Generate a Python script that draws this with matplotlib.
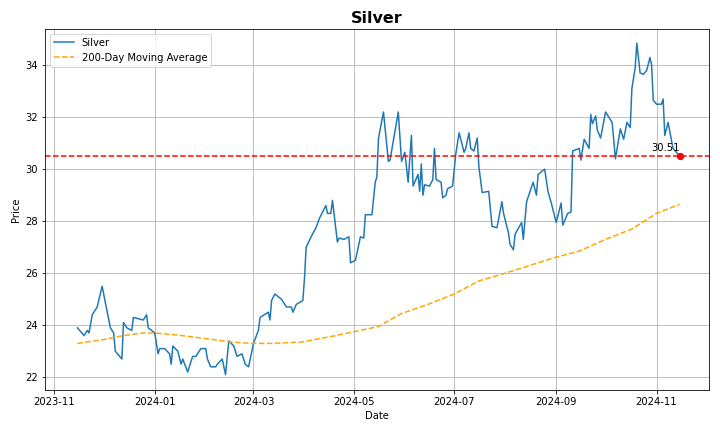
import matplotlib
matplotlib.use("Agg")
import matplotlib.pyplot as plt
import pandas as pd

base_date = "2024-01-01"
price_days = [-47,-43,-41,-40,-38,-35,-32,-27,-25,-24,-20,-19,-17,-14,-13,-7,-5,-4,0,2,3,6,9,10,11,14,16,17,20,23,25,28,31,32,34,37,38,41,43,45,48,50,53,55,57,60,63,64,69,70,71,73,77,80,83,84,86,90,
              91,92,95,98,100,104,105,107,108,111,112,115,118,119,122,125,127,128,132,134,135,136,139,142,143,148,150,152,154,156,157,160,161,162,163,164,167,169,170,171,174,175,177,178,181,183,185,188,189,191,192,194,196,197,199,203,205,208,211,212,215,
              216,218,219,223,224,226,230,232,233,237,239,241,244,247,248,251,253,254,258,259,261,264,265,266,268,269,271,274,278,280,283,285,287,289,290,292,293,295,297,299,301,302,303,305,308,309,310,312,315,319]
price_vals = [23.9,23.6,23.8,23.7,24.4,24.7,25.5,23.9,23.7,23.0,22.7,24.1,23.9,23.8,24.3,24.2,24.4,23.9,23.7,22.9,23.1,23.1,22.9,22.5,23.2,23.0,22.5,22.7,22.2,22.8,22.8,23.1,23.1,22.7,22.4,22.4,22.5,22.7,22.1,23.4,23.2,22.8,22.9,22.5,22.4,23.3,23.8,24.3,24.5,24.2,24.95,25.2,25.0,24.7,24.7,24.5,24.8,24.95,
              25.8,27.0,27.4,27.75,28.1,28.6,28.3,28.3,28.8,27.2,27.35,27.3,27.4,26.4,26.5,27.4,27.35,28.25,28.25,29.5,29.7,31.2,32.2,30.3,30.35,32.2,30.3,30.65,29.5,31.3,29.35,29.8,29.15,30.2,29.0,29.4,29.35,29.6,30.8,29.6,29.5,28.9,29.0,29.25,29.35,30.6,31.4,30.65,30.8,31.4,30.8,30.7,31.2,30.1,29.1,29.15,27.8,27.75,28.75,28.3,27.55,
              27.1,26.9,27.5,27.95,27.3,28.75,29.5,29.0,29.8,30.0,29.15,28.7,27.95,28.7,27.85,28.3,28.35,30.7,30.8,30.35,31.15,30.8,32.1,31.75,32.05,31.5,31.2,32.2,31.8,30.4,31.55,31.15,31.8,31.6,33.1,33.9,34.85,33.7,33.65,33.8,34.3,34.0,32.65,32.5,32.5,32.7,31.3,31.8,30.8,30.51]
ma_days = [-47,-31,-19,-7,0,14,29,47,59,71,89,110,121,136,150,166,182,197,213,228,243,258,274,290,305,319]
ma_vals = [23.3,23.45,23.6,23.7,23.7,23.62,23.5,23.35,23.3,23.3,23.35,23.6,23.75,23.95,24.45,24.8,25.2,25.7,26.0,26.3,26.6,26.85,27.3,27.7,28.3,28.65]
last_price = 30.51

b = pd.Timestamp(base_date)
pd_dates = [b + pd.Timedelta(days=d) for d in price_days]
ma_dates = [b + pd.Timedelta(days=d) for d in ma_days]

fig, ax = plt.subplots(figsize=(10, 6), dpi=72)
ax.plot(pd_dates, price_vals, color="#1f77b4", lw=1.5, label="Silver")
ax.plot(ma_dates, ma_vals, color="orange", ls="--", lw=1.5, label="200-Day Moving Average")
ax.axhline(last_price, color="red", ls="--", lw=1.5)
ax.scatter([pd_dates[-1]], [last_price], color="red", s=40, zorder=5)
ax.text(pd_dates[-1], last_price + 0.1, f"{last_price:.2f}", ha="right", va="bottom", fontsize=10)
ax.set_title("Silver", fontsize=16, fontweight="bold")
ax.set_xlabel("Date")
ax.set_ylabel("Price")
ax.set_yticks(range(22, 35, 2))
ax.set_ylim(21.5, 35.4)
ax.set_xlim(pd.Timestamp("2023-10-26"), pd.Timestamp("2024-12-03"))
ax.grid(True)
ax.legend(loc="upper left")
fig.tight_layout()
fig.savefig("out.png")
